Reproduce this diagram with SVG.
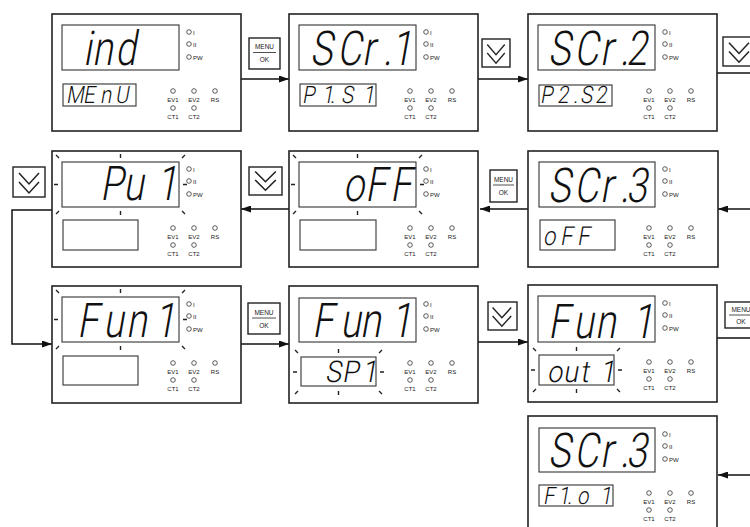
<svg xmlns="http://www.w3.org/2000/svg" xmlns:xlink="http://www.w3.org/1999/xlink" width="750" height="527" viewBox="0 0 750 527">
<style>
.panel{fill:#fff;stroke:#222;stroke-width:1.6}
.disp{fill:none;stroke:#333;stroke-width:1.1}
.seg{font-family:Roboto,"Liberation Sans",Arial,sans-serif;font-weight:300;font-size:48px;fill:#111}
.segs{font-family:Roboto,"Liberation Sans",Arial,sans-serif;font-weight:300;font-size:24px;fill:#111}
.segm{font-family:Roboto,"Liberation Sans",Arial,sans-serif;font-weight:300;font-size:30px;fill:#111}
.led{fill:none;stroke:#333;stroke-width:.8}
.lbl{font-family:"Liberation Sans",Arial,sans-serif;font-size:6px;fill:#222}
.bl{font-family:"Liberation Sans",Arial,sans-serif;font-size:6px;fill:#222;text-anchor:middle}
.blink{stroke:#222;stroke-width:1.4;fill:none}
.conn{stroke:#111;stroke-width:1.5;fill:none}
.btn{fill:#fff;stroke:#222;stroke-width:1.4}
.chev{fill:none;stroke:#222;stroke-width:1.5}
.bt{font-family:"Liberation Sans",Arial,sans-serif;font-size:6.5px;fill:#222;text-anchor:middle}
</style>
<defs>
<marker id="ah" markerUnits="userSpaceOnUse" markerWidth="10" markerHeight="7" refX="10" refY="3.5" orient="auto"><path d="M0,0L10,3.5L0,7z" fill="#111"/></marker>
<path id="bu" d="M-6,-7L-3,-4M58.5,-8V-4M120,-4L123,-7M-8,22.5H-4M121,22.5H125M-6,52L-3,49M58.5,49V53M120,49L123,52"/>
<path id="bl2" d="M-6,-7L-3,-4M37.5,-8V-4M78,-4L81,-7M-8,15H-4M79,15H83M-6,37L-3,34M37.5,34V38M78,34L81,37"/>
<path id="chev" d="M6,6L16,17L26,6M6,15L16,26L26,15"/>
</defs>

<!-- connectors -->
<g id="connectors">
<path class="conn" d="M241,79H289" marker-end="url(#ah)"/>
<path class="conn" d="M478,79H528" marker-end="url(#ah)"/>
<path class="conn" d="M717,73H750"/>
<path class="conn" d="M750,209H718" marker-end="url(#ah)"/>
<path class="conn" d="M528,209H480" marker-end="url(#ah)"/>
<path class="conn" d="M289,209H241" marker-end="url(#ah)"/>
<path class="conn" d="M52,210H12V344H52" marker-end="url(#ah)"/>
<path class="conn" d="M241,344H289" marker-end="url(#ah)"/>
<path class="conn" d="M478,342H528" marker-end="url(#ah)"/>
<path class="conn" d="M717,338H750"/>
<path class="conn" d="M750,475H718" marker-end="url(#ah)"/>
</g>

<!-- buttons -->
<g id="btn-menu-1">
<rect class="btn" x="249" y="38" width="31" height="31"/>
<text class="bt" x="264.5" y="49">MENU</text><path d="M253,52.5H276" stroke="#222" stroke-width=".8"/>
<text class="bt" x="264.5" y="62">OK</text>
</g>
<g id="btn-down-1"><rect class="btn" x="482" y="39" width="28" height="28"/><use xlink:href="#chev" class="chev" transform="translate(482,39) scale(.875 .93)"/></g>
<g id="btn-down-2"><rect class="btn" x="723" y="37" width="32" height="29"/><use xlink:href="#chev" class="chev" transform="translate(723,37) scale(1 .97)"/></g>
<g id="btn-down-3"><rect class="btn" x="13" y="167" width="32" height="30"/><use xlink:href="#chev" class="chev" transform="translate(13,167)"/></g>
<g id="btn-down-4"><rect class="btn" x="249" y="167" width="33" height="28"/><use xlink:href="#chev" class="chev" transform="translate(249,166) scale(1.03 .93)"/></g>
<g id="btn-menu-2">
<rect class="btn" x="490" y="170" width="27" height="32"/>
<text class="bt" x="503.5" y="182">MENU</text><path d="M493,185H514" stroke="#222" stroke-width=".8"/>
<text class="bt" x="503.5" y="195">OK</text>
</g>
<g id="btn-menu-3">
<rect class="btn" x="248" y="303" width="32" height="31"/>
<text class="bt" x="264" y="315">MENU</text><path d="M252,318H276" stroke="#222" stroke-width=".8"/>
<text class="bt" x="264" y="328">OK</text>
</g>
<g id="btn-down-5"><rect class="btn" x="488" y="302" width="29" height="28"/><use xlink:href="#chev" class="chev" transform="translate(487,302) scale(.93 .93)"/></g>
<g id="btn-menu-4">
<rect class="btn" x="725" y="302" width="32" height="26"/>
<text class="bt" x="741" y="312">MENU</text><path d="M729,315H753" stroke="#222" stroke-width=".8"/>
<text class="bt" x="741" y="324">OK</text>
</g>

<!-- Panel 1 -->
<g id="p1" transform="translate(52,14)">
<rect class="panel" width="189" height="117"/>
<rect class="disp" x="10" y="11" width="117" height="45"/>
<rect class="disp" x="11" y="70" width="73" height="22"/>
<text class="seg" transform="translate(31,51) skewX(-10) scale(.78 1)" x="0 11.5 41" y="0">ind</text>
<text class="segs" transform="translate(14,88.5) skewX(-10) scale(.85 1)" x="0 20 40 57.6" y="0">MEnU</text>
<circle class="led" cx="137" cy="18" r="2.3"/><circle class="led" cx="137" cy="30" r="2.3"/><circle class="led" cx="137" cy="43" r="2.3"/>
<text class="lbl" x="141" y="20.5">I</text><text class="lbl" x="141" y="32.5">II</text><text class="lbl" x="141" y="45.5">PW</text>
<circle class="led" cx="121" cy="77" r="2.3"/><circle class="led" cx="142" cy="77" r="2.3"/><circle class="led" cx="163" cy="77" r="2.3"/><circle class="led" cx="121" cy="94" r="2.3"/><circle class="led" cx="142" cy="94" r="2.3"/>
<text class="bl" x="121" y="87.5">EV1</text><text class="bl" x="142" y="87.5">EV2</text><text class="bl" x="163" y="87.5">RS</text><text class="bl" x="121" y="104.5">CT1</text><text class="bl" x="142" y="104.5">CT2</text>
</g>

<!-- Panel 2 -->
<g id="p2" transform="translate(289,14)">
<rect class="panel" width="189" height="117"/>
<rect class="disp" x="10" y="11" width="117" height="45"/>
<rect class="disp" x="11" y="70" width="76" height="22"/>
<text class="seg" transform="translate(21,51) skewX(-10) scale(.78 1)" x="0 34.6 66.7 93.6 103.8" y="0">SCr.1</text>
<text class="segs" transform="translate(13,89) skewX(-10) scale(.85 1)" x="0 23.5 33 45.9 71.8" y="0">P1.S1</text>
<circle class="led" cx="137" cy="18" r="2.3"/><circle class="led" cx="137" cy="30" r="2.3"/><circle class="led" cx="137" cy="43" r="2.3"/>
<text class="lbl" x="141" y="20.5">I</text><text class="lbl" x="141" y="32.5">II</text><text class="lbl" x="141" y="45.5">PW</text>
<circle class="led" cx="121" cy="77" r="2.3"/><circle class="led" cx="142" cy="77" r="2.3"/><circle class="led" cx="163" cy="77" r="2.3"/><circle class="led" cx="121" cy="94" r="2.3"/><circle class="led" cx="142" cy="94" r="2.3"/>
<text class="bl" x="121" y="87.5">EV1</text><text class="bl" x="142" y="87.5">EV2</text><text class="bl" x="163" y="87.5">RS</text><text class="bl" x="121" y="104.5">CT1</text><text class="bl" x="142" y="104.5">CT2</text>
</g>

<!-- Panel 3 -->
<g id="p3" transform="translate(528,14)">
<rect class="panel" width="189" height="117"/>
<rect class="disp" x="10" y="11" width="117" height="45"/>
<rect class="disp" x="11" y="71" width="73" height="21"/>
<text class="seg" transform="translate(20,51) skewX(-10) scale(.78 1)" x="0 33.3 66.7 92.3 100" y="0">SCr.2</text>
<text class="segs" transform="translate(12,89) skewX(-10) scale(.85 1)" x="0 20 38.8 47 64.7" y="0">P2.S2</text>
<circle class="led" cx="137" cy="18" r="2.3"/><circle class="led" cx="137" cy="30" r="2.3"/><circle class="led" cx="137" cy="43" r="2.3"/>
<text class="lbl" x="141" y="20.5">I</text><text class="lbl" x="141" y="32.5">II</text><text class="lbl" x="141" y="45.5">PW</text>
<circle class="led" cx="121" cy="77" r="2.3"/><circle class="led" cx="142" cy="77" r="2.3"/><circle class="led" cx="163" cy="77" r="2.3"/><circle class="led" cx="121" cy="94" r="2.3"/><circle class="led" cx="142" cy="94" r="2.3"/>
<text class="bl" x="121" y="87.5">EV1</text><text class="bl" x="142" y="87.5">EV2</text><text class="bl" x="163" y="87.5">RS</text><text class="bl" x="121" y="104.5">CT1</text><text class="bl" x="142" y="104.5">CT2</text>
</g>

<!-- Panel 4 -->
<g id="p4" transform="translate(52,151)">
<rect class="panel" width="189" height="116"/>
<rect class="disp" x="10" y="11" width="117" height="45"/>
<use xlink:href="#bu" class="blink" x="10" y="11"/>
<rect class="disp" x="11" y="69" width="75" height="30"/>
<text class="seg" transform="translate(48,49) skewX(-10) scale(.78 1)" x="0 29.5 55 72" y="0">Pu 1</text>
<circle class="led" cx="137" cy="18" r="2.3"/><circle class="led" cx="137" cy="30" r="2.3"/><circle class="led" cx="137" cy="43" r="2.3"/>
<text class="lbl" x="141" y="20.5">I</text><text class="lbl" x="141" y="32.5">II</text><text class="lbl" x="141" y="45.5">PW</text>
<circle class="led" cx="121" cy="77" r="2.3"/><circle class="led" cx="142" cy="77" r="2.3"/><circle class="led" cx="163" cy="77" r="2.3"/><circle class="led" cx="121" cy="94" r="2.3"/><circle class="led" cx="142" cy="94" r="2.3"/>
<text class="bl" x="121" y="87.5">EV1</text><text class="bl" x="142" y="87.5">EV2</text><text class="bl" x="163" y="87.5">RS</text><text class="bl" x="121" y="104.5">CT1</text><text class="bl" x="142" y="104.5">CT2</text>
</g>

<!-- Panel 5 -->
<g id="p5" transform="translate(289,151)">
<rect class="panel" width="189" height="116"/>
<rect class="disp" x="10" y="11" width="117" height="45"/>
<use xlink:href="#bu" class="blink" x="10" y="11"/>
<rect class="disp" x="11" y="69" width="76" height="30"/>
<text class="seg" transform="translate(54,50) skewX(-10) scale(.78 1)" x="0 28.2 60.3" y="0">oFF</text>
<circle class="led" cx="137" cy="18" r="2.3"/><circle class="led" cx="137" cy="30" r="2.3"/><circle class="led" cx="137" cy="43" r="2.3"/>
<text class="lbl" x="141" y="20.5">I</text><text class="lbl" x="141" y="32.5">II</text><text class="lbl" x="141" y="45.5">PW</text>
<circle class="led" cx="121" cy="77" r="2.3"/><circle class="led" cx="142" cy="77" r="2.3"/><circle class="led" cx="163" cy="77" r="2.3"/><circle class="led" cx="121" cy="94" r="2.3"/><circle class="led" cx="142" cy="94" r="2.3"/>
<text class="bl" x="121" y="87.5">EV1</text><text class="bl" x="142" y="87.5">EV2</text><text class="bl" x="163" y="87.5">RS</text><text class="bl" x="121" y="104.5">CT1</text><text class="bl" x="142" y="104.5">CT2</text>
</g>

<!-- Panel 6 -->
<g id="p6" transform="translate(528,151)">
<rect class="panel" width="190" height="116"/>
<rect class="disp" x="11" y="11" width="116" height="45"/>
<rect class="disp" x="12" y="69" width="75" height="30"/>
<text class="seg" transform="translate(20,51) skewX(-10) scale(.78 1)" x="0 33.3 66.7 92.3 100" y="0">SCr.3</text>
<text class="segs" transform="translate(15,94) skewX(-10) scale(.85 1)" style="font-size:26px" x="0 20 40" y="0">oFF</text>
<circle class="led" cx="137" cy="18" r="2.3"/><circle class="led" cx="137" cy="30" r="2.3"/><circle class="led" cx="137" cy="43" r="2.3"/>
<text class="lbl" x="141" y="20.5">I</text><text class="lbl" x="141" y="32.5">II</text><text class="lbl" x="141" y="45.5">PW</text>
<circle class="led" cx="121" cy="77" r="2.3"/><circle class="led" cx="142" cy="77" r="2.3"/><circle class="led" cx="163" cy="77" r="2.3"/><circle class="led" cx="121" cy="94" r="2.3"/><circle class="led" cx="142" cy="94" r="2.3"/>
<text class="bl" x="121" y="87.5">EV1</text><text class="bl" x="142" y="87.5">EV2</text><text class="bl" x="163" y="87.5">RS</text><text class="bl" x="121" y="104.5">CT1</text><text class="bl" x="142" y="104.5">CT2</text>
</g>

<!-- Panel 7 -->
<g id="p7" transform="translate(52,286)">
<rect class="panel" width="189" height="117"/>
<rect class="disp" x="10" y="11" width="117" height="45"/>
<use xlink:href="#bu" class="blink" x="10" y="11"/>
<rect class="disp" x="11" y="70" width="75" height="29"/>
<text class="seg" transform="translate(25,51) skewX(-10) scale(.78 1)" x="0 33.3 62.8 88 99" y="0">Fun 1</text>
<circle class="led" cx="137" cy="18" r="2.3"/><circle class="led" cx="137" cy="30" r="2.3"/><circle class="led" cx="137" cy="43" r="2.3"/>
<text class="lbl" x="141" y="20.5">I</text><text class="lbl" x="141" y="32.5">II</text><text class="lbl" x="141" y="45.5">PW</text>
<circle class="led" cx="121" cy="77" r="2.3"/><circle class="led" cx="142" cy="77" r="2.3"/><circle class="led" cx="163" cy="77" r="2.3"/><circle class="led" cx="121" cy="94" r="2.3"/><circle class="led" cx="142" cy="94" r="2.3"/>
<text class="bl" x="121" y="87.5">EV1</text><text class="bl" x="142" y="87.5">EV2</text><text class="bl" x="163" y="87.5">RS</text><text class="bl" x="121" y="104.5">CT1</text><text class="bl" x="142" y="104.5">CT2</text>
</g>

<!-- Panel 8 -->
<g id="p8" transform="translate(289,286)">
<rect class="panel" width="189" height="117"/>
<rect class="disp" x="10" y="12" width="117" height="44"/>
<rect class="disp" x="12" y="71" width="75" height="29"/>
<use xlink:href="#bl2" class="blink" x="12" y="71"/>
<text class="seg" transform="translate(23,51) skewX(-10) scale(.78 1)" x="0 35.9 61.5 88 101" y="0">Fun 1</text>
<text class="segm" transform="translate(36,96) skewX(-10) scale(.9 1)" x="0 18.9 36 41" y="0">SP 1</text>
<circle class="led" cx="137" cy="18" r="2.3"/><circle class="led" cx="137" cy="30" r="2.3"/><circle class="led" cx="137" cy="43" r="2.3"/>
<text class="lbl" x="141" y="20.5">I</text><text class="lbl" x="141" y="32.5">II</text><text class="lbl" x="141" y="45.5">PW</text>
<circle class="led" cx="121" cy="77" r="2.3"/><circle class="led" cx="142" cy="77" r="2.3"/><circle class="led" cx="163" cy="77" r="2.3"/><circle class="led" cx="121" cy="94" r="2.3"/><circle class="led" cx="142" cy="94" r="2.3"/>
<text class="bl" x="121" y="87.5">EV1</text><text class="bl" x="142" y="87.5">EV2</text><text class="bl" x="163" y="87.5">RS</text><text class="bl" x="121" y="104.5">CT1</text><text class="bl" x="142" y="104.5">CT2</text>
</g>

<!-- Panel 9 -->
<g id="p9" transform="translate(528,285)">
<rect class="panel" width="189" height="117"/>
<rect class="disp" x="10" y="11" width="117" height="46"/>
<rect class="disp" x="11" y="70" width="75" height="30"/>
<use xlink:href="#bl2" class="blink" x="11" y="70"/>
<text class="seg" transform="translate(20,53) skewX(-10) scale(.78 1)" x="0 32 60.3 88 108" y="0">Fun 1</text>
<text class="segm" transform="translate(19,97) skewX(-10) scale(.9 1)" x="0 17.8 36.7 48 58.9" y="0">out 1</text>
<circle class="led" cx="137" cy="18" r="2.3"/><circle class="led" cx="137" cy="30" r="2.3"/><circle class="led" cx="137" cy="43" r="2.3"/>
<text class="lbl" x="141" y="20.5">I</text><text class="lbl" x="141" y="32.5">II</text><text class="lbl" x="141" y="45.5">PW</text>
<circle class="led" cx="121" cy="77" r="2.3"/><circle class="led" cx="142" cy="77" r="2.3"/><circle class="led" cx="163" cy="77" r="2.3"/><circle class="led" cx="121" cy="94" r="2.3"/><circle class="led" cx="142" cy="94" r="2.3"/>
<text class="bl" x="121" y="87.5">EV1</text><text class="bl" x="142" y="87.5">EV2</text><text class="bl" x="163" y="87.5">RS</text><text class="bl" x="121" y="104.5">CT1</text><text class="bl" x="142" y="104.5">CT2</text>
</g>

<!-- Panel 10 -->
<g id="p10" transform="translate(528,416)">
<rect class="panel" width="189" height="120"/>
<rect class="disp" x="11" y="12" width="116" height="44"/>
<rect class="disp" x="11" y="69" width="74" height="21"/>
<text class="seg" transform="translate(20,51) skewX(-10) scale(.78 1)" x="0 33.3 66.7 92.3 100" y="0">SCr.3</text>
<text class="segs" transform="translate(15,88) skewX(-10) scale(.85 1)" x="0 17.6 28.2 40 67" y="0">F1.o1</text>
<circle class="led" cx="137" cy="18" r="2.3"/><circle class="led" cx="137" cy="30" r="2.3"/><circle class="led" cx="137" cy="43" r="2.3"/>
<text class="lbl" x="141" y="20.5">I</text><text class="lbl" x="141" y="32.5">II</text><text class="lbl" x="141" y="45.5">PW</text>
<circle class="led" cx="121" cy="77" r="2.3"/><circle class="led" cx="142" cy="77" r="2.3"/><circle class="led" cx="163" cy="77" r="2.3"/><circle class="led" cx="121" cy="94" r="2.3"/><circle class="led" cx="142" cy="94" r="2.3"/>
<text class="bl" x="121" y="87.5">EV1</text><text class="bl" x="142" y="87.5">EV2</text><text class="bl" x="163" y="87.5">RS</text><text class="bl" x="121" y="104.5">CT1</text><text class="bl" x="142" y="104.5">CT2</text>
</g>
</svg>
